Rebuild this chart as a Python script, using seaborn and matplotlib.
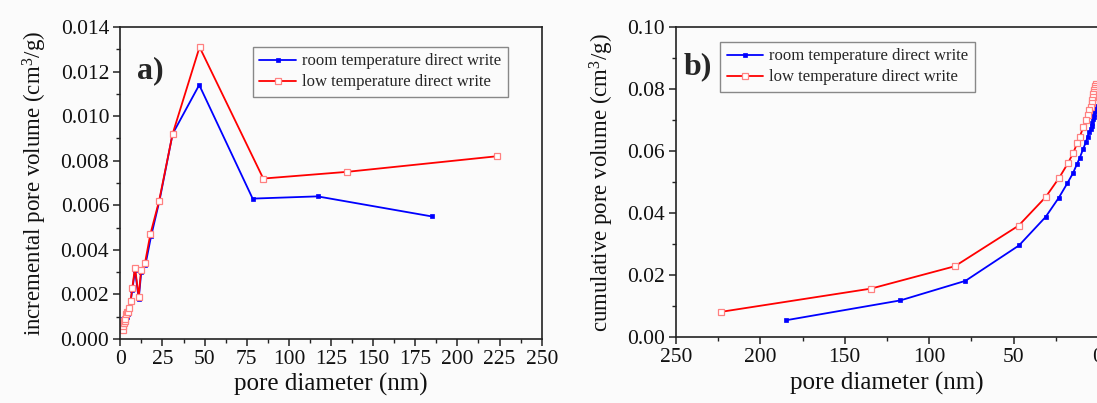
import matplotlib
matplotlib.use('Agg')
import matplotlib.pyplot as plt
import seaborn as sns
from matplotlib.ticker import MultipleLocator, FormatStrFormatter

# Стиль
sns.set_theme(style='ticks')
plt.rcParams['font.family'] = ['Liberation Serif', 'DejaVu Serif']
plt.rcParams['mathtext.default'] = 'regular'

# Данные: диаметр пор (нм), комнатная температура
room_d = [1.6, 1.8, 2.0, 2.3, 2.6, 2.9, 3.3, 3.8, 4.3, 5.1, 6.1, 7.1, 8.7, 10.9,
          12.4, 14.8, 18.2, 23.2, 31.0, 46.8, 78.5, 117.0, 184.8]
room_inc = [0.0008, 0.0009, 0.0008, 0.0009, 0.0009, 0.0010, 0.0010, 0.0010, 0.0011,
            0.0014, 0.0017, 0.0022, 0.0031, 0.0018, 0.0030, 0.0033, 0.0046, 0.0062,
            0.0092, 0.0114, 0.0063, 0.0064, 0.0055]
room_cum = [0.0745, 0.0737, 0.0728, 0.0720, 0.0711, 0.0702, 0.0692, 0.0682, 0.0672,
            0.0661, 0.0647, 0.0630, 0.0608, 0.0577, 0.0559, 0.0529, 0.0496, 0.0450,
            0.0388, 0.0296, 0.0182, 0.0119, 0.0055]

# Низкая температура
low_d = [1.4, 1.6, 1.8, 2.1, 2.4, 2.7, 3.0, 3.4, 3.8, 4.3, 5.1, 6.1, 7.1, 8.7, 10.9,
         12.3, 14.6, 17.8, 23.0, 31.0, 47.0, 84.8, 134.4, 223.4]
low_inc = [0.0004, 0.0006, 0.0007, 0.0007, 0.0008, 0.0008, 0.0009, 0.0011, 0.0012,
           0.0012, 0.0014, 0.0017, 0.0023, 0.0032, 0.0019, 0.0031, 0.0034, 0.0047,
           0.0062, 0.0092, 0.0131, 0.0072, 0.0075, 0.0082]
low_cum = [0.0815, 0.0811, 0.0805, 0.0798, 0.0791, 0.0783, 0.0775, 0.0766, 0.0755,
           0.0743, 0.0731, 0.0717, 0.0700, 0.0677, 0.0645, 0.0626, 0.0595, 0.0561,
           0.0514, 0.0452, 0.0360, 0.0229, 0.0157, 0.0082]

LABEL_ROOM = 'room temperature direct write'
LABEL_LOW = 'low temperature direct write'
BG = '#fbfbfb'

fig = plt.figure(figsize=(10.97, 4.03), dpi=100, facecolor=BG)
ax1 = fig.add_axes([0.1097, 0.1588, 0.3841, 0.7742])
ax2 = fig.add_axes([0.6162, 0.163, 0.3847, 0.770])

room_kw = dict(color='#0000ff', linewidth=1.3, marker='s', markersize=3.5,
               markerfacecolor='#0000ff', markeredgecolor='#0000ff', markeredgewidth=0.5)
low_kw = dict(color='#ff0000', linewidth=1.3, marker='s', markersize=4.5,
              markerfacecolor='white', markeredgecolor='#ff8080', markeredgewidth=0.9)


def draw(ax, x_room, y_room, x_low, y_low):
    ax.set_facecolor(BG)
    sns.lineplot(x=x_room, y=y_room, ax=ax, label=LABEL_ROOM,
                 estimator=None, sort=False, **room_kw)
    sns.lineplot(x=x_low, y=y_low, ax=ax, label=LABEL_LOW,
                 estimator=None, sort=False, **low_kw)
    for s in ax.spines.values():
        s.set_color('#222222')
        s.set_linewidth(1.2)
    ax.tick_params(which='major', direction='out', length=5, width=1.1,
                   labelsize=15.5, color='#222222', labelcolor='#111111', pad=3)
    ax.tick_params(which='minor', direction='out', length=3, width=1.0, color='#222222')
    ax.set_xlabel('pore diameter (nm)', fontsize=18, color='#111111', labelpad=3)


def add_legend(ax, anchor):
    ax.legend(loc='upper left', bbox_to_anchor=anchor, bbox_transform=fig.transFigure,
              fontsize=12, frameon=True, fancybox=False, edgecolor='#888888',
              facecolor=BG, framealpha=1, handlelength=2.2, handletextpad=0.35,
              borderpad=0.4, labelspacing=0.3, borderaxespad=0)


# Панель a)
draw(ax1, room_d, room_inc, low_d, low_inc)
ax1.set_xlim(0, 250)
ax1.set_ylim(0, 0.014)
ax1.xaxis.set_major_locator(MultipleLocator(25))
ax1.xaxis.set_minor_locator(MultipleLocator(12.5))
ax1.yaxis.set_major_locator(MultipleLocator(0.002))
ax1.yaxis.set_minor_locator(MultipleLocator(0.001))
ax1.yaxis.set_major_formatter(FormatStrFormatter('%.3f'))
ax1.set_ylabel('incremental pore volume (cm$^3$/g)', fontsize=16.5, color='#111111', labelpad=8)
ax1.text(0.04, 0.905, 'a)', transform=ax1.transAxes, fontsize=23,
         fontweight='bold', va='top', ha='left')
add_legend(ax1, (0.2304, 0.8841))

# Панель b)
draw(ax2, room_d, room_cum, low_d, low_cum)
ax2.set_xlim(250, 0)
ax2.set_ylim(0, 0.10)
ax2.xaxis.set_major_locator(MultipleLocator(50))
ax2.xaxis.set_minor_locator(MultipleLocator(25))
ax2.yaxis.set_major_locator(MultipleLocator(0.02))
ax2.yaxis.set_minor_locator(MultipleLocator(0.01))
ax2.yaxis.set_major_formatter(FormatStrFormatter('%.2f'))
ax2.set_ylabel('cumulative pore volume (cm$^3$/g)', fontsize=16.5, color='#111111', labelpad=8)
ax2.text(0.017, 0.92, 'b)', transform=ax2.transAxes, fontsize=23,
         fontweight='bold', va='top', ha='left')
add_legend(ax2, (0.6563, 0.8965))

fig.savefig('out.png', dpi=100, facecolor=BG)
